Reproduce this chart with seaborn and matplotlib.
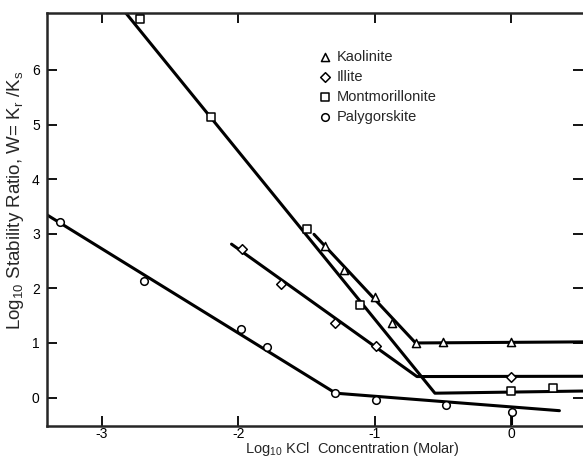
import matplotlib
matplotlib.use("Agg")
import matplotlib.pyplot as plt
import seaborn as sns

# measured points, log10 KCl (M) vs log10 W
kaol_x = [-1.365, -1.225, -1.0, -0.87, -0.70, -0.50, 0.0]
kaol_y = [2.77, 2.33, 1.84, 1.37, 1.00, 1.02, 1.02]
illite_x = [-1.976, -1.69, -1.291, -0.99, 0.0]
illite_y = [2.72, 2.08, 1.36, 0.95, 0.38]
mont_x = [-2.72, -2.20, -1.50, -1.11, 0.0, 0.31]
mont_y = [6.93, 5.13, 3.08, 1.69, 0.12, 0.17]
paly_x = [-3.31, -2.69, -1.98, -1.79, -1.29, -0.99, -0.48, 0.01]
paly_y = [3.22, 2.14, 1.25, 0.92, 0.08, -0.04, -0.14, -0.27]

# fitted lines (break points)
kaol_fit_x = [-1.445, -0.70, 0.53]
kaol_fit_y = [2.99, 1.00, 1.02]
illite_fit_x = [-2.05, -0.69, 0.53]
illite_fit_y = [2.81, 0.385, 0.39]
mont_fit_x = [-2.86, -0.558, 0.53]
mont_fit_y = [7.15, 0.08, 0.12]
paly_fit_x = [-3.406, -1.286, 0.355]
paly_fit_y = [3.35, 0.08, -0.24]

# error bar on last palygorskite point
paly_err_x = 0.01
paly_err_lo = -0.50
paly_err_hi = -0.17

names = ["Kaolinite", "Illite", "Montmorillonite", "Palygorskite"]

sns.set_style("ticks")
plt.rcParams['font.family'] = ['Liberation Sans', 'DejaVu Sans']
plt.rcParams['mathtext.default'] = 'regular'
plt.rcParams['axes.unicode_minus'] = False

fig = plt.figure(figsize=(5.83, 4.61), dpi=100)
ax = fig.add_axes([0.080, 0.076, 0.92, 0.8966])

fits = [(kaol_fit_x, kaol_fit_y), (illite_fit_x, illite_fit_y),
        (mont_fit_x, mont_fit_y), (paly_fit_x, paly_fit_y)]
for fx, fy in fits:
    sns.lineplot(x=fx, y=fy, ax=ax, color="black", linewidth=2.2, sort=False,
                 estimator=None, legend=False)

ax.vlines(paly_err_x, paly_err_lo, paly_err_hi, color="black", linewidth=1.5)

pts = [(kaol_x, kaol_y, "^", 34), (illite_x, illite_y, "D", 24),
       (mont_x, mont_y, "s", 26), (paly_x, paly_y, "o", 30)]
for (px, py, m, s), name in zip(pts, names):
    sns.scatterplot(x=px, y=py, ax=ax, marker=m, s=s, color="white",
                    edgecolor="black", linewidth=1.1, label=name, zorder=3)

ax.legend(loc="upper left", bbox_to_anchor=(0.505, 0.91), frameon=False,
          handletextpad=0.3, labelspacing=0.42, borderaxespad=0, borderpad=0,
          handlelength=1.0, scatterpoints=1, fontsize=10.5)

ax.set_xlim(-3.406, 0.528)
ax.set_ylim(-0.52, 7.05)
ax.set_xticks([-3, -2, -1, 0])
ax.set_yticks([0, 1, 2, 3, 4, 5, 6])
ax.tick_params(direction="in", length=7, width=1.3, labelsize=10,
               top=True, right=True, colors="black")
ax.tick_params(axis="x", pad=1)
ax.tick_params(axis="y", pad=5)
ax.set_xlabel("Log$_{10}$ KCl  Concentration (Molar)", fontsize=10.5)
ax.set_ylabel("Log$_{10}$ Stability Ratio, W= K$_r$ /K$_s$", fontsize=13.5)
ax.xaxis.set_label_coords(0.57, -0.034)
ax.yaxis.set_label_coords(-0.038, 0.545)
for side in ["left", "bottom", "top"]:
    ax.spines[side].set_linewidth(1.8)
ax.spines["right"].set_visible(False)

fig.savefig("out.png", dpi=100)
